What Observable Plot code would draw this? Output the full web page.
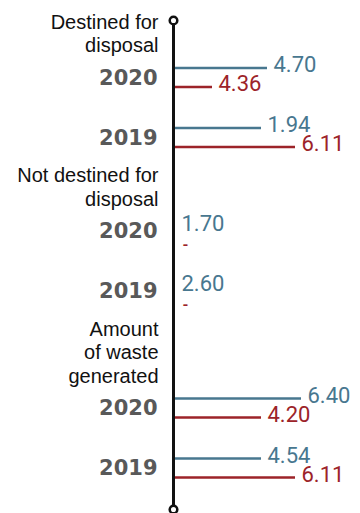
<!DOCTYPE html>
<html>
<head>
<meta charset="utf-8">
<script src="https://cdn.jsdelivr.net/npm/d3@7"></script>
<script src="https://cdn.jsdelivr.net/npm/@observablehq/plot@0.6"></script>
<style>
  html, body { margin: 0; padding: 0; background: #fff; }
  #chart svg { display: block; }
  g[aria-label="values"] text { letter-spacing: 1.6px; }
  g[aria-label="groups"] text { letter-spacing: 0.5px; }
</style>
</head>
<body>
<div id="chart"></div>
<script>
// ---- data ----
const groupLines = [
  ["Destined for", "disposal"],
  ["Not destined for", "disposal"],
  ["Amount", "of waste", "generated"]
];
const years = ["2020", "2019"];
// value labels shown at the end of each bar (group-major, then year)
const blueLabels = ["4.70", "1.94", "1.70", "2.60", "6.40", "4.54"];
const redLabels  = ["4.36", "6.11", "-", "-", "4.20", "6.11"];
// bar lengths as drawn in the picture
const blueBars = [4.7, 4.4, 0, 0, 6.4, 4.4];
const redBars  = [1.95, 6.1, 0, 0, 4.4, 6.1];

const BLUE = "#48778f";
const RED = "#9c2329";

// ---- layout (row order) ----
const headerRows = [], yearRows = [], bars = [];
let cursor = 22;
groupLines.forEach((lines, g) => {
  lines.forEach((t, i) => headerRows.push({text: t, y: cursor + i * 23.5}));
  let blueY = cursor + (lines.length - 1) * 23.5 + 22;
  years.forEach((yr, k) => {
    const idx = g * years.length + k;
    yearRows.push({text: yr, y: blueY + 10});
    bars.push({len: blueBars[idx], label: blueLabels[idx], y: blueY, c: BLUE});
    bars.push({len: redBars[idx], label: redLabels[idx], y: blueY + 19, c: RED});
    if (k < years.length - 1) blueY += 60;
  });
  cursor = blueY + 48;
});
const axisTop = 20;
const axisBottom = bars[bars.length - 1].y + 32;
const withBar = bars.filter(d => d.len > 0);
const noBar = bars.filter(d => d.len === 0);

const chart = Plot.plot({
  width: 360,
  height: 513,
  margin: 0,
  x: {domain: [0, 1], range: [173, 193], axis: null},
  y: {domain: [0, 513], range: [0, 513], axis: null},
  marks: [
    Plot.ruleY(withBar, {
      x1: 0, x2: "len", y: "y", stroke: "c", strokeWidth: 2.5
    }),
    Plot.ruleX([0], {y1: axisTop, y2: axisBottom, stroke: "#111", strokeWidth: 3}),
    Plot.dot([axisTop, axisBottom], {
      x: 0, y: d => d, r: 3.8, fill: "white", stroke: "#111", strokeWidth: 2.5
    }),
    Plot.text(withBar, {
      ariaLabel: "values",
      x: "len", y: "y", text: "label", fill: "c",
      textAnchor: "start", dx: 6, dy: -3,
      fontSize: 22, fontFamily: "Roboto"
    }),
    Plot.text(noBar.filter(d => d.c === BLUE), {
      ariaLabel: "values",
      x: "len", y: "y", text: "label", fill: "c",
      textAnchor: "start", dx: 8, dy: 2,
      fontSize: 22, fontFamily: "Roboto"
    }),
    Plot.text(noBar.filter(d => d.c === RED), {
      x: "len", y: "y", text: "label", fill: "c",
      textAnchor: "start", dx: 9, dy: 5,
      fontSize: 15, fontWeight: "bold", fontFamily: "Roboto"
    }),
    Plot.text(yearRows, {
      x: 0, y: "y", text: "text", fill: "#595959",
      textAnchor: "end", dx: -16,
      fontSize: 21, fontWeight: "bold", fontFamily: "DejaVu Sans"
    }),
    Plot.text(headerRows, {
      ariaLabel: "groups",
      x: 0, y: "y", text: "text", fill: "#111",
      textAnchor: "end", dx: -15,
      fontSize: 20, fontFamily: "Liberation Sans"
    })
  ]
});
document.getElementById("chart").append(chart);
</script>
</body>
</html>
